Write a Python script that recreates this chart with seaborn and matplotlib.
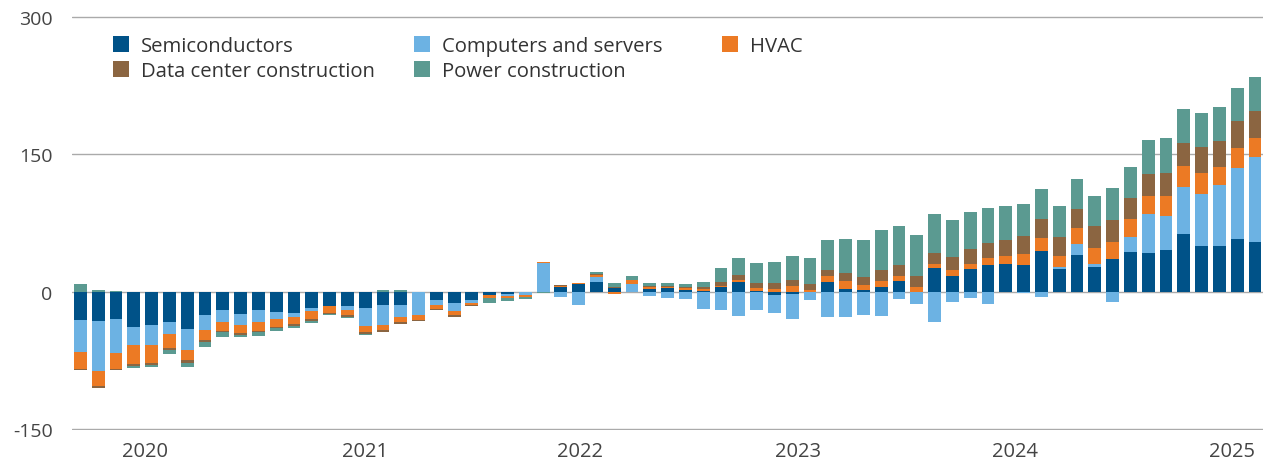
import numpy as np
import matplotlib
matplotlib.use("Agg")
import matplotlib.pyplot as plt
from matplotlib.patches import Patch
import seaborn as sns

# monthly contributions, Sep 2019 .. Mar 2025 (67 bars)
semiconductors = [-31, -32, -30, -38, -36, -33, -41, -25, -20, -24,
                  -20, -22.5, -23.5, -18, -15.5, -16, -17.4, -14.5, -14, -0.5,
                  -9.2, -12.3, -9.6, -3.6, -2.5, 0, 0, 4.7, 8, 10.5,
                  4.3, 0, 3.3, 3.6, 2.2, 1, 4.7, 10.5, 0.7, -3.6,
                  -2, 0, 11, 3.3, 1.4, 5.4, 11.6, 0, 25.4, 16.7,
                  24.3, 29, 30.6, 29, 44, 25, 40.5, 27, 36, 43,
                  42, 46, 62.7, 50, 50, 57.2, 54]
computers = [-35, -55, -37, -20, -22, -13, -22.5, -17, -13.5, -12.5,
             -13.5, -7, -3.6, -3.6, 0, -3.6, -20, -22, -14, -24.5,
             -5.6, -8.8, -2.9, 0, -1.8, -3.6, 31, -6, -14, 5.8,
             0, 8.7, -4.5, -6.9, -7.5, -19, -20, -26, -20, -20,
             -28, -8.7, -28, -28, -25, -26.5, -7.5, -13, -33, -11,
             -6.5, -13.8, 0, -1.5, -5.8, 1.8, 12, 3.6, -11, 16.3,
             42.8, 36.2, 51.8, 56.9, 66.7, 78.3, 93]
hvac = [-18, -16, -17, -21, -20, -15, -11.5, -10.5, -9, -9,
        -9, -8.5, -8.3, -8.7, -7.5, -6.2, -6.2, -5.4, -5.4, -5.4,
        -4, -4.5, -2.5, -2.9, -2.2, -2.2, 1.5, 1.8, 1.5, 2.2,
        -2, 3.6, 1.8, 1.8, 1.4, 1.8, 1.4, 2.2, 2.9, 3.3,
        6, 1.5, 5.8, 8.7, 5.4, 6.5, 5.4, 5.1, 4.3, 6.5,
        6.2, 7.6, 8, 12.5, 15, 11.8, 16.7, 17.4, 18.5, 20.3,
        19.6, 22, 22.8, 23.2, 19.2, 21, 21]
data_center = [-2, -2, -2, -2, -2.5, -2.5, -2.5, -2, -2, -2,
               -2, -2, -2, -1.8, -1.8, -2.2, -2.2, -2.2, -1.8, -1.2,
               -1, -1.6, -1, -0.5, -0.5, -0.5, 0, 0.5, 0, 0.7,
               1, 1, 1, 1, 1, 1.8, 4.7, 5.4, 5.8, 5.8,
               6.3, 7, 7.2, 8.3, 9, 12.3, 12, 12.3, 13, 14.9,
               15.9, 16.5, 18, 19.6, 20, 20.7, 21, 23.6, 23.6, 23.2,
               24, 25.4, 25.4, 27.5, 28.6, 29.7, 29.7]
power = [8, 1.5, 1, -2, -2, -4.5, -4.5, -5.5, -5, -2.5,
         -3.5, -2.5, -2.3, -1.8, -0.5, -1, -1.4, 1.5, 1.5, 0,
         0, -0.8, 0, -5.4, -3.3, -2.2, -1.5, 0, 0, 2.2,
         4, 3.6, 3, 3.3, 4.3, 6, 15.6, 18.5, 22, 23.5,
         26.7, 28.6, 32, 37, 41, 43, 42.8, 45, 42, 39.9,
         40.6, 38.4, 37, 34.8, 33.3, 34.6, 33.3, 33.3, 35, 33.7,
         37.3, 37.7, 36.6, 38, 37.3, 36.6, 36.2]

series_names = ["Semiconductors", "Computers and servers", "HVAC",
                "Data center construction", "Power construction"]
colors = ["#005288", "#6cb2e3", "#ec7a24", "#8b6541", "#5b9a91"]

year_labels = ["2020", "2021", "2022", "2023", "2024", "2025"]
year_pos = [3.63, 16.0, 28.1, 40.3, 52.5, 64.7]

sns.set_theme(style="white")
plt.rcParams["font.family"] = ["Open Sans", "DejaVu Sans"]

fig = plt.figure(figsize=(12.8, 4.77), dpi=100)
ax = fig.add_axes([72 / 1280, 1 - 431 / 477, (1263 - 72) / 1280, (431 - 17) / 477])

x = np.arange(len(semiconductors))
pos_base = np.zeros(len(x))
neg_base = np.zeros(len(x))
for vals, name, col in zip([semiconductors, computers, hvac, data_center, power],
                           series_names, colors):
    v = np.array(vals, dtype=float)
    p = np.clip(v, 0, None)
    n = np.clip(v, None, 0)
    ax.bar(x, p, bottom=pos_base, width=0.72, color=col, linewidth=0, zorder=3)
    ax.bar(x, n, bottom=neg_base, width=0.72, color=col, linewidth=0, zorder=3)
    pos_base += p
    neg_base += n

ax.set_ylim(-151, 301)
ax.set_xlim(-0.47, len(x) - 0.55)
ax.set_yticks([-150, 0, 150, 300])
ax.set_yticklabels(["-150", "0", "150", "300"])
ax.set_xticks(year_pos)
ax.set_xticklabels(year_labels)
ax.tick_params(axis="y", length=0, pad=14, labelsize=14, labelcolor="#444444")
ax.tick_params(axis="x", length=0, pad=8, labelsize=14.5, labelcolor="#444444")
ax.grid(axis="y", color="#aaaaaa", linewidth=1, zorder=0)
ax.grid(axis="x", visible=False)
sns.despine(ax=ax, left=True, bottom=True)

handles = [Patch(facecolor=c, edgecolor="none") for c in colors]
leg_kw = dict(loc="upper left", bbox_transform=fig.transFigure, frameon=False,
              borderpad=0, borderaxespad=0, fontsize=14.6, handlelength=0.8,
              handleheight=0.8, handletextpad=0.6, columnspacing=1.9,
              labelspacing=0.26, labelcolor="#333333")
order = [0, 3, 1, 4]
leg1 = ax.legend([handles[i] for i in order], [series_names[i] for i in order],
                 ncol=2, bbox_to_anchor=(113 / 1280, 1 - 37 / 477), **leg_kw)
ax.add_artist(leg1)
ax.legend([handles[2]], [series_names[2]], ncol=1,
          bbox_to_anchor=(722 / 1280, 1 - 37 / 477), **leg_kw)

fig.savefig("out.png", dpi=100)
